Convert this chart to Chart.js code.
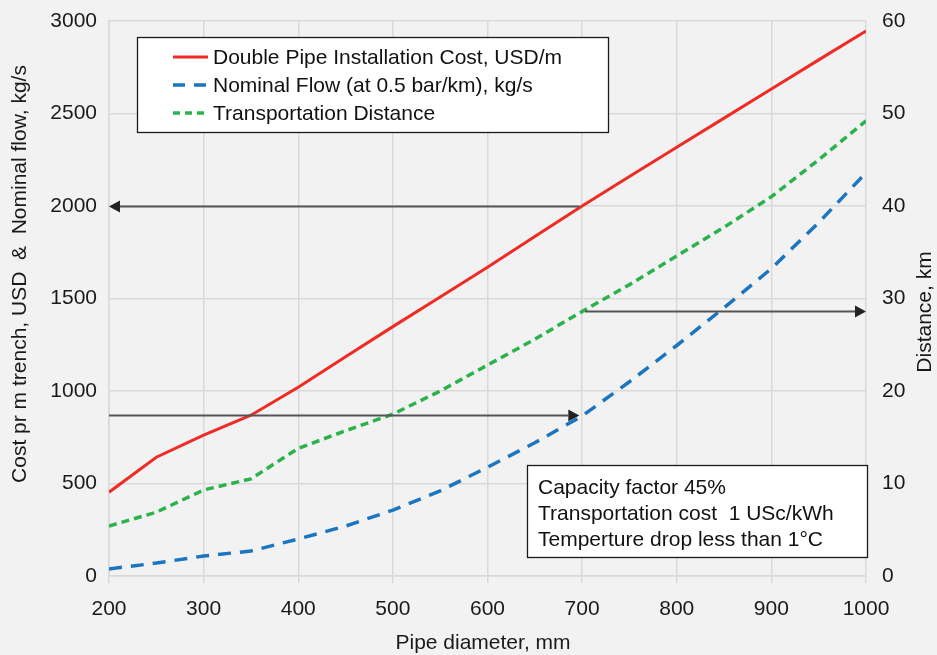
<!DOCTYPE html>
<html>
<head>
<meta charset="utf-8">
<script src="https://cdn.jsdelivr.net/npm/chart.js@4/dist/chart.umd.min.js"></script>
<style>
  html, body { margin: 0; padding: 0; background: #f2f2f2; }
  #wrap { width: 937px; height: 655px; position: relative; }
</style>
</head>
<body>
<div id="wrap"><canvas id="c"></canvas></div>
<script>
// ---- data ----
const diameters = [200, 250, 300, 350, 400, 450, 500, 550, 600, 650, 700, 750, 800, 850, 900, 950, 1000];
const installCost = [453, 642, 761, 869, 1020, 1185, 1348, 1508, 1669, 1835, 2000, 2160, 2318, 2475, 2632, 2790, 2946];
const nominalFlow = [38, 70, 108, 135, 200, 270, 356, 460, 588, 720, 865, 1050, 1246, 1450, 1662, 1910, 2180];
const distanceKm = [5.4, 6.9, 9.3, 10.5, 13.8, 15.7, 17.5, 20.0, 22.8, 25.6, 28.6, 31.5, 34.6, 37.7, 41.0, 45.0, 49.2];

const seriesNames = ['Double Pipe Installation Cost, USD/m', 'Nominal Flow (at 0.5 bar/km), kg/s', 'Transportation Distance'];
const noteLines = ['Capacity factor 45%', 'Transportation cost  1 USc/kWh', 'Temperture drop less than 1°C'];

// arrows: from x, to x, at value y, on axis
const arrowFrom = [697, 200, 703];
const arrowTo = [200, 697, 1000];
const arrowLevel = [2000, 870, 28.6];
const arrowAxis = ['y', 'y', 'y2'];

const xTitle = 'Pipe diameter, mm';
const yTitle = 'Cost pr m trench, USD  &  Nominal flow, kg/s';
const y2Title = 'Distance, km';

// ---- styles ----
const FONT = '"Liberation Sans", Arial, Helvetica, sans-serif';
const RED = '#ee2b24', BLUE = '#1c75bf', GREEN = '#2bb24c';
const GRID = '#d9d9d9', TXT = '#1a1a1a';

const pts = (ys) => diameters.map((x, i) => ({ x: x, y: ys[i] }));
const plain = (v) => String(v);

function rotatedText(ctx, text, cx, cy) {
  ctx.save();
  ctx.translate(cx, cy);
  ctx.rotate(-Math.PI / 2);
  ctx.textAlign = 'center';
  ctx.textBaseline = 'middle';
  ctx.fillStyle = TXT;
  ctx.fillText(text, 0, 0);
  ctx.restore();
}

const decor = {
  id: 'decor',
  beforeDraw(chart) {
    const ctx = chart.ctx;
    ctx.save();
    ctx.fillStyle = '#f2f2f2';
    ctx.fillRect(0, 0, chart.width, chart.height);
    ctx.restore();
  },
  afterDatasetsDraw(chart) {
    const ctx = chart.ctx;
    const xs = chart.scales.x;
    ctx.save();
    // arrows
    for (let i = 0; i < arrowFrom.length; i++) {
      const ys = chart.scales[arrowAxis[i]];
      const x1 = xs.getPixelForValue(arrowFrom[i]);
      const x2 = xs.getPixelForValue(arrowTo[i]);
      const y = Math.round(ys.getPixelForValue(arrowLevel[i])) + 0.5;
      const dir = x2 > x1 ? 1 : -1;
      const headLen = 11, headHalf = 6;
      ctx.strokeStyle = '#555555';
      ctx.lineWidth = 2;
      ctx.setLineDash([]);
      ctx.beginPath();
      ctx.moveTo(x1, y);
      ctx.lineTo(x2 - dir * headLen, y);
      ctx.stroke();
      ctx.fillStyle = '#222222';
      ctx.beginPath();
      ctx.moveTo(x2, y);
      ctx.lineTo(x2 - dir * headLen, y - headHalf);
      ctx.lineTo(x2 - dir * headLen, y + headHalf);
      ctx.closePath();
      ctx.fill();
    }

    // legend box
    ctx.font = '21px ' + FONT;
    ctx.textBaseline = 'middle';
    ctx.textAlign = 'left';
    const lx = 137.5, ly = 37.5, lw = 471, lh = 95;
    ctx.fillStyle = '#ffffff';
    ctx.fillRect(lx, ly, lw, lh);
    ctx.strokeStyle = '#1a1a1a';
    ctx.lineWidth = 1.3;
    ctx.strokeRect(lx, ly, lw, lh);
    const colors = [RED, BLUE, GREEN];
    const dashes = [[], [12, 9], [7, 5]];
    const widths = [3, 3.5, 3.5];
    for (let i = 0; i < 3; i++) {
      const cy = 57 + i * 28;
      ctx.strokeStyle = colors[i];
      ctx.lineWidth = widths[i];
      ctx.setLineDash(dashes[i]);
      ctx.beginPath();
      ctx.moveTo(173, cy);
      ctx.lineTo(208, cy);
      ctx.stroke();
      ctx.setLineDash([]);
      ctx.fillStyle = '#111111';
      ctx.fillText(seriesNames[i], 213, cy + 1);
    }

    // note box
    const nx = 527.5, ny = 465.5, nw = 340, nh = 92;
    ctx.fillStyle = '#ffffff';
    ctx.fillRect(nx, ny, nw, nh);
    ctx.strokeStyle = '#1a1a1a';
    ctx.lineWidth = 1.3;
    ctx.strokeRect(nx, ny, nw, nh);
    ctx.fillStyle = '#111111';
    for (let i = 0; i < noteLines.length; i++) {
      ctx.fillText(noteLines[i], 538, 488 + i * 26);
    }

    // axis titles
    rotatedText(ctx, yTitle, 20, 274);
    rotatedText(ctx, y2Title, 925, 312);
    ctx.textAlign = 'center';
    ctx.textBaseline = 'middle';
    ctx.fillStyle = TXT;
    ctx.fillText(xTitle, 483, 643);

    ctx.restore();
  }
};

function fitY(width) {
  return function (s) {
    s.width = width;
    s.paddingTop = 0;
    s.paddingBottom = 0;
  };
}

new Chart(document.getElementById('c'), {
  type: 'line',
  data: {
    datasets: [
      { label: seriesNames[0], data: pts(installCost), yAxisID: 'y', borderColor: RED, borderWidth: 3, pointRadius: 0, tension: 0, fill: false },
      { label: seriesNames[1], data: pts(nominalFlow), yAxisID: 'y', borderColor: BLUE, borderWidth: 3.5, borderDash: [13, 9], pointRadius: 0, tension: 0, fill: false },
      { label: seriesNames[2], data: pts(distanceKm), yAxisID: 'y2', borderColor: GREEN, borderWidth: 3.5, borderDash: [8, 5], pointRadius: 0, tension: 0, fill: false }
    ]
  },
  options: {
    responsive: true,
    maintainAspectRatio: false,
    animation: false,
    layout: { padding: { top: 21, left: 0, right: 0, bottom: 0 } },
    plugins: { legend: { display: false }, tooltip: { enabled: false } },
    scales: {
      x: {
        type: 'linear', position: 'bottom', min: 200, max: 1000,
        ticks: { stepSize: 100, color: TXT, font: { family: FONT, size: 21 }, padding: 14, maxRotation: 0, callback: plain },
        grid: { color: GRID, lineWidth: 1.5, tickLength: 7, drawTicks: true },
        border: { display: true, color: GRID, width: 1.5 },
        title: { display: false },
        afterFit(s) { s.height = 79; s.paddingLeft = 0; s.paddingRight = 0; }
      },
      y: {
        type: 'linear', position: 'left', min: 0, max: 3000,
        ticks: { stepSize: 500, color: TXT, font: { family: FONT, size: 21 }, padding: 12, callback: plain },
        grid: { color: GRID, lineWidth: 1.5, drawTicks: false },
        border: { display: true, color: GRID, width: 1.5 },
        title: { display: false },
        afterFit: fitY(109)
      },
      y2: {
        type: 'linear', position: 'right', min: 0, max: 60,
        ticks: { stepSize: 10, color: TXT, font: { family: FONT, size: 21 }, padding: 16, callback: plain },
        grid: { display: false, drawTicks: false },
        border: { display: false },
        afterFit: fitY(71)
      }
    }
  },
  plugins: [decor]
});
</script>
</body>
</html>
